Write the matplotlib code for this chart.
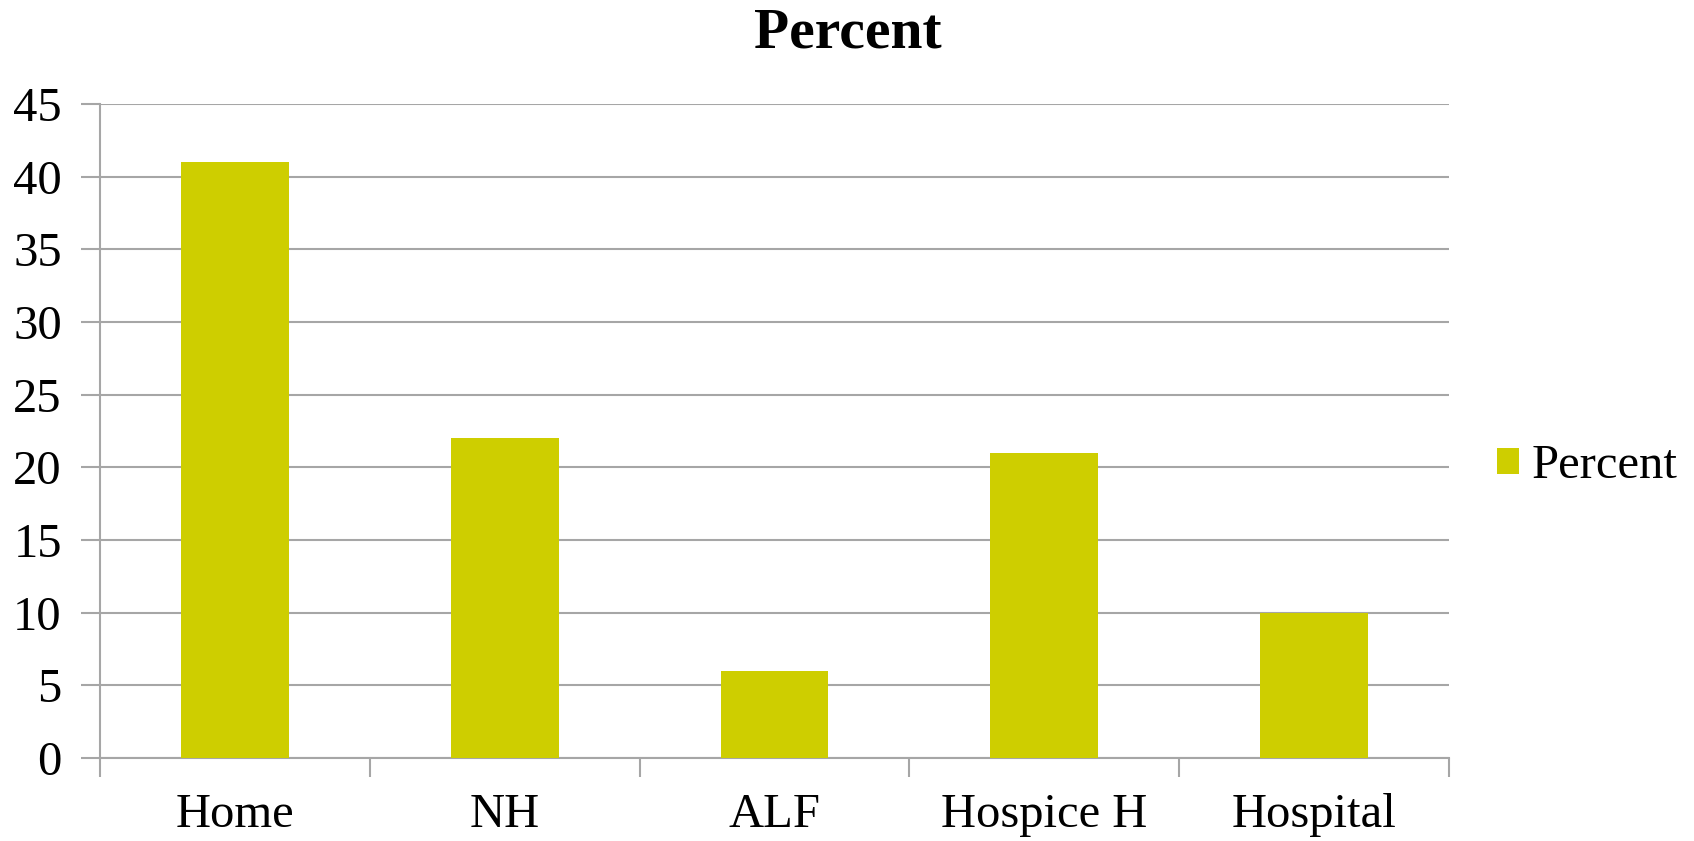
import matplotlib
matplotlib.use("Agg")
import matplotlib.pyplot as plt
import numpy as np

categories = ["Home", "NH", "ALF", "Hospice H", "Hospital"]
percent = [41, 22, 6, 21, 10]
yticks = [0, 5, 10, 15, 20, 25, 30, 35, 40, 45]

bar_color = "#CECE00"
grid_color = "#A6A6A6"
label_size = 35

plt.rcParams["font.family"] = ["Liberation Serif", "DejaVu Serif"]

fig = plt.figure(figsize=(16.94, 8.41), dpi=100)
ax = fig.add_axes([100 / 1694, 1 - 758 / 841, (1449 - 100) / 1694, (758 - 104) / 841])

x = np.arange(len(categories))
ax.bar(x, percent, width=0.4, color=bar_color, label="Percent", zorder=3)

ax.set_xlim(-0.5, len(categories) - 0.5)
ax.set_ylim(0, 45)
ax.set_yticks(yticks)
ax.set_yticklabels([str(v) for v in yticks], fontsize=label_size)
ax.set_xticks(x)
ax.set_xticklabels(categories, fontsize=label_size)

# category separators as minor ticks below the axis
ax.set_xticks(np.arange(-0.5, len(categories)), minor=True)
ax.tick_params(axis="x", which="major", length=0, pad=25.5)
ax.tick_params(axis="x", which="minor", length=14, color=grid_color, width=1.5)
ax.tick_params(axis="y", length=14, color=grid_color, width=1.5, pad=13.5)

ax.yaxis.grid(True, color=grid_color, linewidth=1.5, zorder=0)
ax.set_axisbelow(True)
for side in ["top", "right"]:
    ax.spines[side].set_visible(False)
for side in ["left", "bottom"]:
    ax.spines[side].set_color(grid_color)
    ax.spines[side].set_linewidth(1.5)

fig.text(848 / 1694, 1 - 33 / 841, "Percent", ha="center", va="center",
         fontsize=41.5, fontweight="bold")

ax.legend(loc="center left", bbox_to_anchor=(1.0356, 0.446), frameon=False,
          fontsize=label_size, handlelength=0.45, handleheight=0.45,
          handletextpad=0.27, borderaxespad=0, borderpad=0)

fig.savefig("out.png", dpi=100, facecolor="white")
